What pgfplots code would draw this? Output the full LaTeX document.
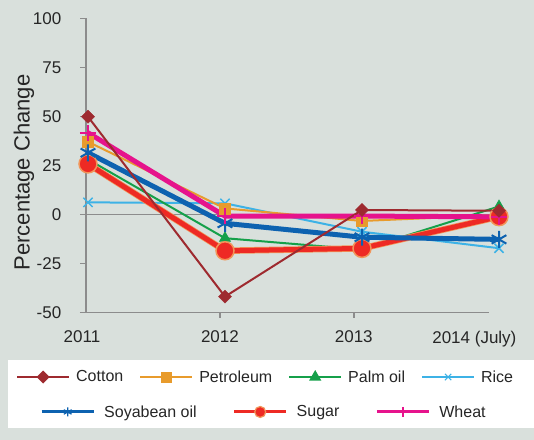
\documentclass[border=0pt]{standalone}
\usepackage{fontspec}
\setmainfont{Liberation Sans}
\usepackage{pgfplots}
\pgfplotsset{compat=1.18}
\definecolor{bgc}{HTML}{D9E0DC}
\definecolor{axgray}{HTML}{8C8C8C}
\definecolor{txtc}{HTML}{262626}
\definecolor{cotc}{HTML}{9E2A2F}
\definecolor{petc}{HTML}{E89B2C}
\definecolor{palc}{HTML}{15A04A}
\definecolor{ricc}{HTML}{3DB2E6}
\definecolor{soyc}{HTML}{0D62B0}
\definecolor{sugc}{HTML}{EE2A24}
\definecolor{sugo}{HTML}{F2955A}
\definecolor{whec}{HTML}{E6138C}
\pgfplotsset{
  cot/.style={color=cotc, line width=2bp, mark=square*, mark size=4.6bp, mark options={solid, rotate=45, line width=0.5bp}},
  pet/.style={color=petc, line width=2bp, mark=square*, mark size=5.5bp, mark options={solid, line width=0.5bp}},
  pal/.style={color=palc, line width=2bp, mark=triangle*, mark size=6.5bp, mark options={solid, line width=0.5bp}},
  ric/.style={color=ricc, line width=2bp, mark=x, mark size=6.5bp, mark options={solid, line width=1.5bp}},
  soy/.style={color=soyc, line width=5bp, mark=asterisk, mark size=8.5bp, mark options={solid, line width=2bp}},
  sug/.style={color=sugc, line width=5bp, preaction={draw=sugo, line width=6.5bp}, mark=*, mark size=9bp, mark options={solid, fill=sugc, draw=sugo, line width=1.5bp}},
  whe/.style={color=whec, line width=5bp, mark=+, mark size=8bp, mark options={solid, line width=2bp}},
  lcot/.style={color=cotc, line width=2bp, mark=square*, mark size=3.6bp, mark options={rotate=45}},
  lpet/.style={color=petc, line width=2bp, mark=square*, mark size=4.5bp},
  lpal/.style={color=palc, line width=2bp, mark=triangle*, mark size=5bp},
  lric/.style={color=ricc, line width=2bp, mark=x, mark size=4.5bp, mark options={line width=1.2bp}},
  lsoy/.style={color=soyc, line width=3bp, mark=asterisk, mark size=4.5bp, mark options={line width=1.2bp}},
  lsug/.style={color=sugc, line width=3bp, mark=*, mark size=5.5bp, mark options={fill=sugc, draw=sugo, line width=1.2bp}},
  lwhe/.style={color=whec, line width=3bp, mark=|, mark size=5bp, mark options={line width=1.5bp}},
  myleg/.style={
    legend image code/.code={\draw[mark repeat=2,mark phase=2,##1] plot coordinates {(0bp,0bp) (26bp,0bp) (52bp,0bp)};},
    legend cell align=left,
  },
}
\begin{document}
\begin{tikzpicture}
\fill[bgc] (-86bp,-127.7bp) rectangle (448bp,312.3bp);
\fill[white] (-78bp,-115.7bp) rectangle (448bp,-47.7bp);
\begin{axis}[
  at={(0,0)}, anchor=south west,
  scale only axis, width=403bp, height=294bp,
  xmin=-0.0146, xmax=2.927, ymin=-50, ymax=100,
  clip=false,
  axis x line=bottom, axis y line=left,
  axis line style={-, draw=axgray, line width=1.5bp},
  x axis line style={shorten <=-6bp},
  ytick={-50,-25,0,25,50,75,100},
  xtick={0.963,1.94}, xticklabels={2012,2013},
  extra x ticks={0,2.864}, extra x tick labels={2011,2014 (July)},
  extra x tick style={tick style={draw=none}, xticklabel style={xshift=-6bp}},
  tick align=outside, major tick length=5.5bp,
  tick style={draw=axgray, line width=1.5bp},
  /pgf/number format/assume math mode=true,
  ticklabel style={font=\fontsize{17bp}{20bp}\selectfont, text=txtc, inner sep=0pt},
  yticklabel style={xshift=-19bp},
  xticklabel style={yshift=-13bp},
  ylabel={Percentage Change},
  ylabel style={font=\fontsize{22bp}{24bp}\selectfont, text=txtc, at={(axis description cs:-0.154,0.4755)}, anchor=center, rotate=0},
  myleg,
  legend columns=4,
  legend style={draw=none, fill=none, inner sep=0pt, at={(axis description cs:-0.1737,-0.2201)}, anchor=west,
    font=\fontsize{16bp}{19bp}\selectfont, text=txtc,
    /tikz/every odd column/.append style={column sep=4bp},
    /tikz/every even column/.append style={column sep=14bp}},
]
\draw[axgray, line width=1.5bp] (axis cs:-0.0146,0) -- (axis cs:2.927,0);
\addplot[ric, forget plot] coordinates {(0,6.1) (1,5.6) (2,-8.9) (3,-17.3)};
\addplot[pet, forget plot] coordinates {(0,37) (1,3) (2,-3.4) (3,-0.4)};
\addplot[pal, forget plot] coordinates {(0,28) (1,-12.2) (2,-18) (3,4)};
\addplot[sug, forget plot] coordinates {(0,25.7) (1,-18.6) (2,-17.4) (3,-1.2)};
\addplot[soy, forget plot] coordinates {(0,31.4) (1,-4.6) (2,-11.7) (3,-12.8)};
\addplot[whe, forget plot] coordinates {(0,41.6) (1,-0.9) (2,-0.9) (3,-1.3)};
\addplot[cot, forget plot] coordinates {(0,49.8) (1,-42) (2,2.2) (3,1.8)};
\addlegendimage{lcot}\addlegendentry{Cotton}
\addlegendimage{lpet}\addlegendentry{Petroleum}
\addlegendimage{lpal}\addlegendentry{Palm oil}
\addlegendimage{lric}\addlegendentry{Rice}
\end{axis}
\begin{axis}[
  at={(0,0)}, anchor=south west,
  scale only axis, width=403bp, height=294bp,
  hide axis, xmin=0, xmax=1, ymin=0, ymax=1,
  myleg,
  legend columns=3,
  legend style={draw=none, fill=none, inner sep=0pt, at={(axis description cs:-0.1141,-0.339)}, anchor=west,
    font=\fontsize{16bp}{19bp}\selectfont, text=txtc,
    /tikz/every odd column/.append style={column sep=7bp},
    /tikz/every even column/.append style={column sep=34bp}},
]
\addlegendimage{lsoy}\addlegendentry{Soyabean oil}
\addlegendimage{lsug}\addlegendentry{Sugar}
\addlegendimage{lwhe}\addlegendentry{Wheat}
\end{axis}
\pgfresetboundingbox
\useasboundingbox (-86bp,-127.7bp) rectangle (448bp,312.3bp);
\end{tikzpicture}
\end{document}
